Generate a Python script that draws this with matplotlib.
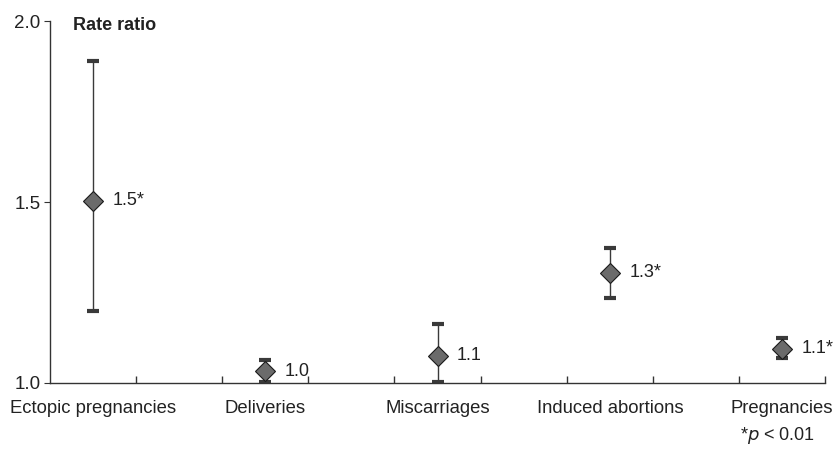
import matplotlib.pyplot as plt

plt.rcParams['font.family'] = ['Liberation Sans', 'DejaVu Sans']

categories = ['Ectopic pregnancies', 'Deliveries', 'Miscarriages',
              'Induced abortions', 'Pregnancies']
rate = [1.504, 1.032, 1.075, 1.305, 1.095]
lower = [1.198, 1.003, 1.003, 1.236, 1.068]
upper = [1.889, 1.064, 1.163, 1.374, 1.124]
labels = ['1.5*', '1.0', '1.1', '1.3*', '1.1*']

fig = plt.figure(figsize=(8.36, 4.49), dpi=100)
ax = fig.add_axes([0.0598, 0.147, 0.9272, 0.806])

xs = [2 * i for i in range(len(categories))]
yerr = [[r - lo for r, lo in zip(rate, lower)],
        [hi - r for r, hi in zip(rate, upper)]]

eb = ax.errorbar(xs, rate, yerr=yerr, fmt='none', ecolor='#3a3a3a',
                 elinewidth=1.0, capsize=4.6, zorder=2)
for cap in eb[1]:
    cap.set_color('#111111')
    cap.set_markeredgewidth(3)
ax.plot(xs, rate, ls='none', marker='D', ms=9.8, mfc='#6b6b6b',
        mec='#1a1a1a', mew=0.8, zorder=3)

for x, r, t in zip(xs, rate, labels):
    ax.annotate(t, (x, r), xytext=(14, 0), textcoords='offset points',
                va='center', ha='left', fontsize=13, color='#222222')

ax.set_xlim(-0.5, 8.5)
ax.set_ylim(1.0, 2.0)
ax.set_yticks([1.0, 1.5, 2.0])
ax.set_yticklabels(['1.0', '1.5', '2.0'])
ax.set_xticks(xs)
ax.set_xticklabels(categories)
ax.tick_params(axis='x', length=0, pad=12, labelsize=13.3, labelcolor='#222222')
ax.set_xticks([i + 0.5 for i in range(9)], minor=True)
ax.tick_params(axis='x', which='minor', direction='in', length=5,
               color='#333333', width=1)
ax.tick_params(axis='y', direction='out', length=4, color='#333333',
               labelsize=13.5, labelcolor='#222222', pad=3)

for s in ['top', 'right']:
    ax.spines[s].set_visible(False)
for s in ['left', 'bottom']:
    ax.spines[s].set_color('#333333')
    ax.spines[s].set_linewidth(1)

fig.text(0.0873, 0.944, 'Rate ratio', fontsize=13,
         fontweight='bold', va='center', ha='left', color='#222222')

fig.text(0.975, 0.031, r'*$\it{p}$ < 0.01', ha='right', va='center',
         fontsize=13, color='#222222')

fig.savefig('out.png', dpi=100)
